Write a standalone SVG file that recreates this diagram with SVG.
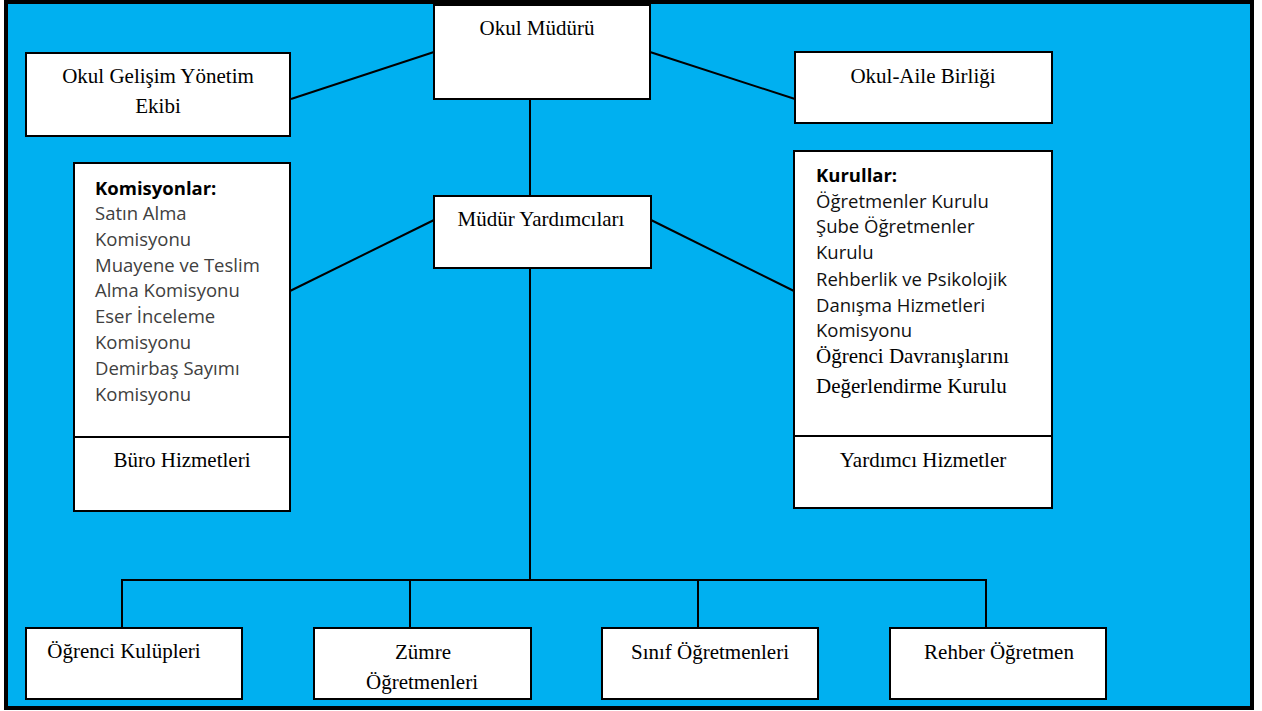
<svg xmlns="http://www.w3.org/2000/svg" width="1262" height="711" viewBox="0 0 1262 711">
<style>
.box{fill:#fff;stroke:#000;stroke-width:2}
.t{font-family:"Liberation Serif","Times New Roman",serif;font-size:21px;fill:#000}
.c{text-anchor:middle}
.s{font-family:"Open Sans","Noto Sans",sans-serif;font-size:18.5px;fill:#111}
.g{fill:#404040}
.b{font-weight:bold;fill:#000}
.ln{stroke:#000;stroke-width:2;fill:none}
</style>
<rect x="0" y="0" width="1262" height="711" fill="#fff"/>
<rect x="6" y="2" width="1246" height="706" fill="#00B0F0" stroke="#000" stroke-width="4"/>
<g id="connectors">
<line class="ln" x1="434" y1="52" x2="291" y2="99"/>
<line class="ln" x1="650" y1="52" x2="795" y2="99"/>
<line class="ln" x1="530" y1="99" x2="530" y2="196"/>
<line class="ln" x1="434" y1="220" x2="290" y2="291"/>
<line class="ln" x1="651" y1="220" x2="794" y2="291"/>
<line class="ln" x1="530" y1="268" x2="530" y2="580"/>
<polyline class="ln" points="122,628 122,580 986,580 986,628"/>
<line class="ln" x1="410" y1="580" x2="410" y2="628"/>
<line class="ln" x1="698" y1="580" x2="698" y2="628"/>
</g>
<g id="okul-muduru">
<rect class="box" x="434" y="5" width="216" height="94"/>
<text class="t c" x="537" y="35">Okul Müdürü</text>
</g>
<g id="okul-gelisim">
<rect class="box" x="26" y="53" width="264" height="83"/>
<text class="t c" x="158" y="83">Okul Gelişim Yönetim</text>
<text class="t c" x="158" y="113">Ekibi</text>
</g>
<g id="okul-aile">
<rect class="box" x="795" y="52" width="257" height="71"/>
<text class="t c" x="923" y="83">Okul-Aile Birliği</text>
</g>
<g id="mudur-yardimcilari">
<rect class="box" x="434" y="196" width="217" height="72"/>
<text class="t c" x="541" y="226">Müdür Yardımcıları</text>
</g>
<g id="komisyonlar">
<rect class="box" x="74" y="163" width="216" height="274"/>
<text class="s b" x="95" y="195">Komisyonlar:</text>
<text class="s g" x="95" y="220">Satın Alma</text>
<text class="s g" x="95" y="246">Komisyonu</text>
<text class="s g" x="95" y="272">Muayene ve Teslim</text>
<text class="s g" x="95" y="297">Alma Komisyonu</text>
<text class="s g" x="95" y="323">Eser İnceleme</text>
<text class="s g" x="95" y="349">Komisyonu</text>
<text class="s g" x="95" y="375">Demirbaş Sayımı</text>
<text class="s g" x="95" y="401">Komisyonu</text>
</g>
<g id="buro-hizmetleri">
<rect class="box" x="74" y="437" width="216" height="74"/>
<text class="t c" x="182" y="467">Büro Hizmetleri</text>
</g>
<g id="kurullar">
<rect class="box" x="794" y="151" width="258" height="285"/>
<text class="s b" x="816" y="182">Kurullar:</text>
<text class="s" x="816" y="208">Öğretmenler Kurulu</text>
<text class="s" x="816" y="233">Şube Öğretmenler</text>
<text class="s" x="816" y="259">Kurulu</text>
<text class="s" x="816" y="286">Rehberlik ve Psikolojik</text>
<text class="s" x="816" y="312">Danışma Hizmetleri</text>
<text class="s" x="816" y="337">Komisyonu</text>
<text class="t" x="816" y="363">Öğrenci Davranışlarını</text>
<text class="t" x="816" y="393">Değerlendirme Kurulu</text>
</g>
<g id="yardimci-hizmetler">
<rect class="box" x="794" y="436" width="258" height="72"/>
<text class="t c" x="923" y="467">Yardımcı Hizmetler</text>
</g>
<g id="ogrenci-kulupleri">
<rect class="box" x="26" y="628" width="216" height="71"/>
<text class="t c" x="124" y="658">Öğrenci Kulüpleri</text>
</g>
<g id="zumre-ogretmenleri">
<rect class="box" x="314" y="628" width="217" height="71"/>
<text class="t c" x="423" y="659">Zümre</text>
<text class="t c" x="422" y="689">Öğretmenleri</text>
</g>
<g id="sinif-ogretmenleri">
<rect class="box" x="602" y="628" width="216" height="71"/>
<text class="t c" x="710" y="659">Sınıf Öğretmenleri</text>
</g>
<g id="rehber-ogretmen">
<rect class="box" x="890" y="628" width="216" height="71"/>
<text class="t c" x="999" y="659">Rehber Öğretmen</text>
</g>
</svg>
